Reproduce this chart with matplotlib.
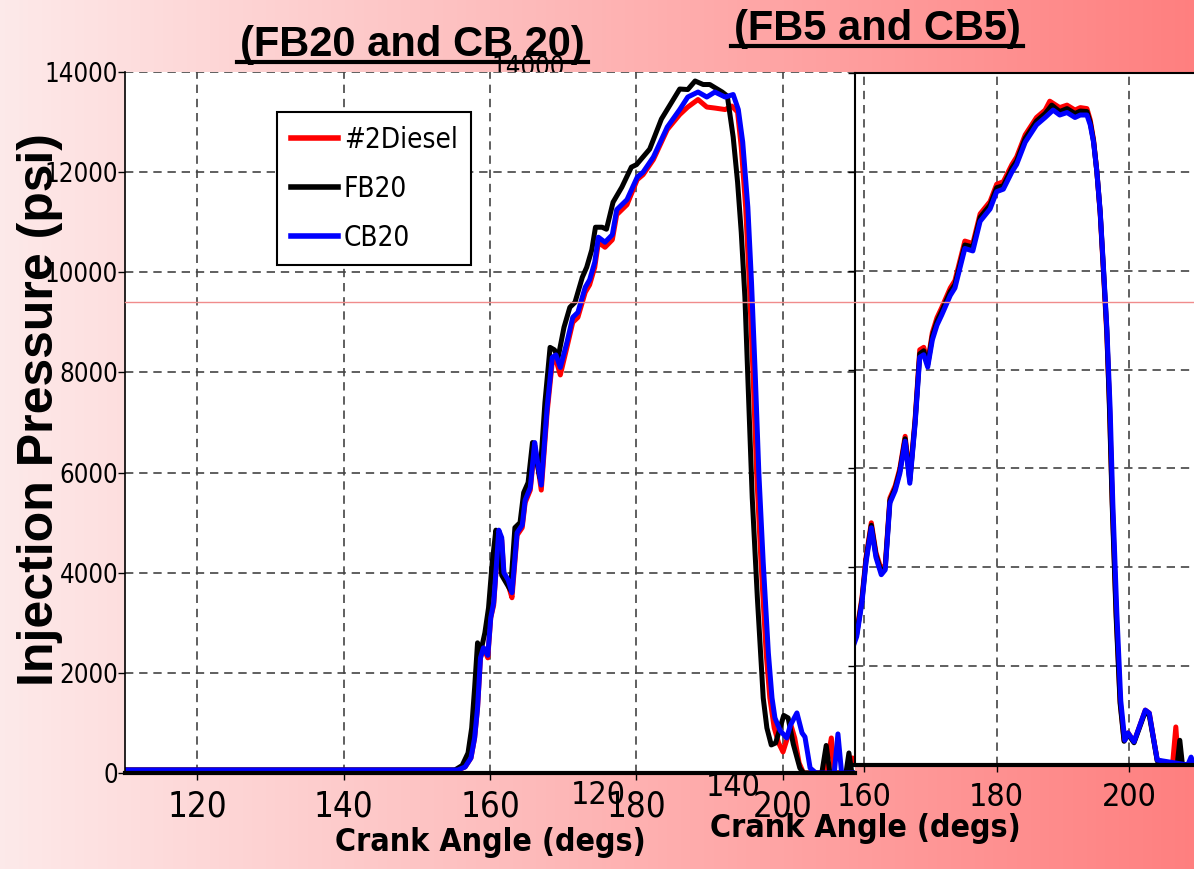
import numpy as np
import matplotlib
matplotlib.use("Agg")
import matplotlib.pyplot as plt
import matplotlib.font_manager as fm
from matplotlib.lines import Line2D

W, H = 1194, 869
BOLD = ["Liberation Sans", "DejaVu Sans"]


def find_narrow(bold=False):
    """Look for a condensed sans face; the slide uses squeezed Arial."""
    for f in fm.fontManager.ttflist:
        name = f.name.lower()
        narrow = "narrow" in name or "condensed" in name or f.stretch in ("condensed", "semi-condensed")
        if not narrow or "mono" in name or "serif" in name or f.style != "normal":
            continue
        w = f.weight if isinstance(f.weight, int) else (700 if f.weight == "bold" else 400)
        if (w >= 600) == bold:
            return f.fname
    return None


NARROW_REG = find_narrow(False)
NARROW_BOLD = find_narrow(True)


def nfont(size, bold=False):
    path = NARROW_BOLD if bold else NARROW_REG
    if path:
        return fm.FontProperties(fname=path, size=size)
    # no condensed face installed: shrink the plain one instead
    return fm.FontProperties(family=BOLD, size=size * 0.82, weight="bold" if bold else "normal")


# ---- left panel (FB20 / CB20) ----
diesel20_deg = [110, 130, 150, 155.6, 156.6, 157.4, 157.9, 158.3, 158.7, 159.1, 159.7, 160.1, 160.5,
                160.9, 161.2, 161.6, 161.9, 162.5, 163.0, 163.7, 164.4, 164.8, 165.5, 166.1, 166.5,
                167.0, 167.8, 168.5, 169.0, 169.6, 170.5, 171.3, 172.0, 173.0, 173.6, 174.3, 174.8,
                175.7, 176.7, 177.3, 178.7, 180.1, 180.9, 182.3, 184.2, 185.9, 187.0, 188.4, 189.6,
                190.7, 192.1, 193.0, 193.8, 194.3, 194.9, 195.4, 195.9, 196.4, 197.0, 197.7, 198.2,
                198.8, 199.4, 200.0, 200.6, 201.1, 201.6, 202.2, 202.8, 205.8, 206.6, 207.0, 209.0,
                209.5, 210]
diesel20_psi = [60, 60, 60, 60, 120, 300, 700, 1300, 2300, 2500, 2300, 3100, 3350,
                4200, 4800, 4650, 3950, 3750, 3500, 4750, 4900, 5400, 5650, 6550, 6150,
                5650, 7200, 8200, 8250, 7950, 8500, 9000, 9100, 9600, 9750, 10100, 10600,
                10500, 10650, 11150, 11350, 11850, 11950, 12250, 12850, 13150, 13300, 13450, 13300,
                13280, 13250, 13320, 13200, 12500, 11300, 9800, 8000, 6000, 4200, 2400, 1500,
                900, 600, 420, 700, 950, 700, 200, 0, 0, 700, 0, 0,
                300, 250]

fb20_deg = [110, 130, 150, 155.2, 156.2, 157.0, 157.5, 157.9, 158.3, 158.7, 159.3, 159.8, 160.3,
            160.8, 161.2, 161.6, 162.2, 162.8, 163.4, 164.1, 164.6, 165.2, 165.8, 166.3, 166.8,
            167.5, 168.2, 168.8, 169.3, 170.1, 170.9, 171.6, 172.6, 173.2, 173.9, 174.4, 175.3,
            175.9, 176.8, 178.0, 179.3, 180.0, 181.8, 183.4, 185.9, 187.0, 188.0, 189.1, 190.0,
            191.7, 192.4, 193.2, 193.8, 194.3, 194.8, 195.3, 195.8, 196.5, 197.3, 197.8, 198.4,
            199.0, 199.6, 200.1, 200.7, 201.4, 202.3, 202.8, 205.3, 205.9, 206.4, 208.6, 209.0,
            209.4, 210]
fb20_psi = [60, 60, 60, 60, 150, 400, 900, 1700, 2600, 2400, 2800, 3300, 4200,
            4850, 4600, 3950, 3800, 3650, 4900, 5000, 5600, 5800, 6600, 6300, 5900,
            7400, 8500, 8450, 8300, 8900, 9300, 9400, 9900, 10100, 10450, 10900, 10900,
            10860, 11400, 11700, 12100, 12150, 12460, 13060, 13660, 13650, 13820, 13750, 13750,
            13600, 13520, 12700, 11800, 10800, 9500, 7500, 5500, 3500, 1500, 900, 560,
            600, 900, 1150, 1100, 580, 100, 0, 0, 550, 0, 0, 400,
            0, 0]

cb20_deg = [110, 130, 150, 155.6, 156.6, 157.4, 157.9, 158.3, 158.7, 159.1, 159.7, 160.1, 160.5,
            160.9, 161.2, 161.6, 161.9, 162.5, 163.0, 163.7, 164.4, 164.8, 165.5, 166.1, 166.5,
            167.0, 167.8, 168.5, 169.0, 169.6, 170.5, 171.3, 172.0, 173.0, 173.6, 174.3, 174.8,
            175.7, 176.7, 177.3, 178.7, 180.1, 180.9, 182.3, 184.2, 185.9, 187.0, 188.4, 189.6,
            190.7, 192.1, 193.2, 193.9, 194.5, 195.2, 195.7, 196.2, 196.7, 197.3, 198.0, 198.5,
            198.9, 199.6, 200.5, 201.0, 201.9, 202.6, 203.0, 203.7, 204.5, 207.0, 207.5, 208.0,
            210]
cb20_psi = [60, 60, 60, 60, 120, 300, 700, 1300, 2300, 2500, 2350, 3100, 3400,
            4200, 4850, 4700, 4000, 3850, 3600, 4800, 4950, 5450, 5700, 6600, 6200,
            5750, 7300, 8300, 8350, 8100, 8600, 9100, 9200, 9700, 9850, 10200, 10700,
            10600, 10750, 11250, 11450, 11900, 12000, 12300, 12900, 13250, 13500, 13600, 13500,
            13600, 13500, 13550, 13250, 12600, 11300, 9800, 8000, 6000, 4200, 2400, 1500,
            1100, 850, 700, 950, 1200, 800, 720, 100, 0, 0, 780, 0,
            0]

# ---- right panel (FB5 / CB5) ----
diesel5_deg = [158.5, 158.9, 159.7, 160.3, 161.1, 161.8, 162.6, 163.2, 163.9, 164.7, 165.4, 166.2,
               166.9, 167.7, 168.4, 169.0, 169.6, 170.3, 171.0, 171.7, 173.0, 173.7, 175.2, 176.4,
               177.5, 179.0, 180.0, 181.0, 182.3, 183.0, 184.3, 186.0, 187.3, 188.0, 189.5, 190.6,
               191.8, 192.6, 193.6, 194.1, 194.6, 195.1, 195.6, 196.1, 196.6, 197.0, 197.4, 198.0,
               198.6, 199.2, 199.8, 200.7, 202.4, 203.0, 203.6, 204.2, 206.5, 207.0, 207.4, 210]
diesel5_psi = [2550, 2700, 3400, 4200, 4900, 4300, 3950, 4050, 5400, 5650, 6000, 6650,
               5800, 7000, 8400, 8450, 8150, 8750, 9050, 9250, 9650, 9800, 10600, 10550,
               11150, 11400, 11750, 11800, 12150, 12300, 12750, 13100, 13250, 13430, 13300, 13350,
               13250, 13300, 13280, 13050, 12650, 12000, 11150, 9950, 8700, 7300, 5400, 3100,
               1300, 500, 650, 470, 1110, 1050, 570, 100, 0, 770, 0, 0]

fb5_deg = [158.5, 158.9, 159.7, 160.3, 161.1, 161.8, 162.6, 163.2, 163.9, 164.7, 165.4, 166.2,
           166.9, 167.7, 168.4, 169.0, 169.6, 170.3, 171.0, 171.7, 173.0, 173.7, 175.2, 176.4,
           177.5, 179.0, 180.0, 181.0, 182.3, 183.0, 184.3, 186.0, 187.3, 188.3, 189.5, 190.6,
           191.8, 192.6, 193.6, 194.1, 194.6, 195.1, 195.6, 196.1, 196.6, 197.0, 197.4, 198.0,
           198.6, 199.2, 199.8, 200.7, 202.4, 203.0, 203.6, 204.2, 207.2, 207.6, 208.0, 210]
fb5_psi = [2500, 2650, 3350, 4150, 4850, 4250, 3900, 4000, 5350, 5600, 5950, 6600,
           5750, 6950, 8320, 8380, 8100, 8680, 8980, 9180, 9580, 9720, 10520, 10480,
           11080, 11330, 11680, 11720, 12080, 12220, 12680, 13030, 13180, 13350, 13220, 13280,
           13180, 13230, 13220, 13000, 12620, 12000, 11180, 10000, 8780, 7200, 5300, 3000,
           1250, 480, 620, 450, 1080, 1000, 550, 80, 0, 500, 0, 0]

cb5_deg = [158.5, 158.9, 159.7, 160.3, 161.1, 161.8, 162.6, 163.2, 163.9, 164.7, 165.4, 166.2,
           166.9, 167.7, 168.4, 169.0, 169.6, 170.3, 171.0, 171.7, 173.0, 173.7, 175.2, 176.4,
           177.5, 179.0, 180.0, 181.0, 182.3, 183.0, 184.3, 186.0, 187.3, 188.5, 189.5, 190.6,
           191.8, 192.6, 193.6, 194.1, 194.6, 195.1, 195.6, 196.1, 196.6, 197.1, 197.5, 198.1,
           198.7, 199.3, 199.8, 200.7, 202.4, 203.0, 203.6, 204.2, 208.8, 209.3, 209.7]
cb5_psi = [2450, 2600, 3300, 4100, 4800, 4200, 3850, 3950, 5300, 5550, 5900, 6550,
           5700, 6900, 8250, 8300, 8050, 8600, 8900, 9100, 9500, 9650, 10450, 10400,
           11000, 11250, 11600, 11650, 12000, 12150, 12600, 12950, 13100, 13250, 13150, 13200,
           13100, 13150, 13150, 12950, 12600, 12000, 11200, 10050, 8850, 7200, 5300, 3100,
           1300, 500, 650, 470, 1110, 1050, 570, 100, 0, 160, 0]

left_labels = ["#2Diesel", "FB20", "CB20"]
x_ticks_left = [120, 140, 160, 180, 200]
x_ticks_right = [160, 180, 200]
y_ticks = [0, 2000, 4000, 6000, 8000, 10000, 12000, 14000]

COLORS = ["#ff0000", "#000000", "#0000ff"]


def fx(px):
    return px / W


def fy(py):
    return 1 - py / H


fig = plt.figure(figsize=(W / 100, H / 100), dpi=100)

# gradient background
bg = fig.add_axes([0, 0, 1, 1], zorder=-10)
grad = np.linspace(0, 1, 256)
c0 = np.array([0.992, 0.915, 0.915])
c1 = np.array([1.0, 0.50, 0.50])
img = c0[None, None, :] + (c1 - c0)[None, None, :] * grad[None, :, None]
bg.imshow(img, aspect="auto", extent=[0, 1, 0, 1])
bg.set_axis_off()

grid_kw = dict(color="#444444", linestyle=(0, (5, 3.5)), linewidth=1.2)


def style_axes(ax, xsize, ysize):
    ax.grid(True, **grid_kw)
    ax.set_axisbelow(True)
    for lab in ax.get_xticklabels():
        lab.set_fontproperties(nfont(xsize))
    for lab in ax.get_yticklabels():
        lab.set_fontproperties(nfont(ysize))
    ax.tick_params(axis="both", direction="out", length=5, width=1, color="black")


# left panel
ax1 = fig.add_axes([fx(125), fy(773), fx(855) - fx(125), fy(72) - fy(773)], zorder=1)
ax1.plot(diesel20_deg, diesel20_psi, color=COLORS[0], lw=3.6, label=left_labels[0])
ax1.plot(fb20_deg, fb20_psi, color=COLORS[1], lw=3.6, label=left_labels[1])
ax1.plot(cb20_deg, cb20_psi, color=COLORS[2], lw=3.6, label=left_labels[2])
ax1.set_xlim(110.17, 209.83)
ax1.set_ylim(0, 14000)
ax1.set_xticks(x_ticks_left)
ax1.set_yticks(y_ticks)
ax1.tick_params(axis="x", pad=7, length=0)
ax1.tick_params(axis="y", pad=0)
ax1.spines["top"].set_visible(False)
ax1.spines["right"].set_visible(False)
ax1.spines["bottom"].set_linewidth(3)
ax1.spines["left"].set_linewidth(1.2)
style_axes(ax1, 25, 18.5)

leg = ax1.legend(loc="upper left", bbox_to_anchor=(fx(277), fy(112)),
                 bbox_transform=fig.transFigure, frameon=True, fancybox=False,
                 edgecolor="black", framealpha=1, prop=nfont(20),
                 handlelength=1.7, handletextpad=0.2, labelspacing=0.75,
                 borderpad=0.5, borderaxespad=0)
leg.get_frame().set_linewidth(1.5)
for h in leg.get_lines():
    h.set_linewidth(4)

# right panel
ax2 = fig.add_axes([fx(855), fy(765), 1 - fx(855), fy(73) - fy(765)], zorder=2)
ax2.plot(diesel5_deg, diesel5_psi, color=COLORS[0], lw=3.6)
ax2.plot(fb5_deg, fb5_psi, color=COLORS[1], lw=3.6)
ax2.plot(cb5_deg, cb5_psi, color=COLORS[2], lw=3.6)
ax2.set_xlim(158.64, 209.74)
ax2.set_ylim(0, 14000)
ax2.set_xticks(x_ticks_right)
ax2.set_yticks(y_ticks)
ax2.set_yticklabels([])
ax2.tick_params(axis="x", pad=7, length=0)
ax2.spines["right"].set_visible(False)
ax2.spines["bottom"].set_linewidth(3)
ax2.spines["top"].set_linewidth(1.5)
ax2.spines["left"].set_linewidth(1.5)
style_axes(ax2, 23, 18.5)

# ghost pieces left over from the slide composition
fig.text(fx(528), fy(68), "14000", fontproperties=nfont(18.5), ha="center",
         va="center", zorder=-1)
fig.text(fx(598), fy(795), "120", fontproperties=nfont(23), ha="center",
         va="center", zorder=-1)
fig.text(fx(733), fy(787), "140", fontproperties=nfont(23), ha="center",
         va="center", zorder=-1)
fig.add_artist(Line2D([fx(125), 1], [fy(302), fy(302)], color="#f08c8c", lw=1, zorder=5))

# titles with underline
fig.text(fx(412), fy(56), "(FB20 and CB 20)", family=BOLD, weight="bold",
         fontsize=30, ha="center", va="baseline")
fig.add_artist(Line2D([fx(237), fx(588)], [fy(62), fy(62)], color="black", lw=3))
fig.text(fx(877), fy(40), "(FB5 and CB5)", family=BOLD, weight="bold",
         fontsize=30, ha="center", va="baseline")
fig.add_artist(Line2D([fx(731), fx(1023)], [fy(46), fy(46)], color="black", lw=3))

# axis labels
fig.text(fx(40), fy(410), "Injection Pressure (psi)", family=BOLD, weight="bold",
         fontsize=36, rotation=90, ha="center", va="center")
fig.text(fx(490), fy(843), "Crank Angle (degs)", fontproperties=nfont(23, bold=True),
         ha="center", va="center")
fig.text(fx(865), fy(828), "Crank Angle (degs)", fontproperties=nfont(23, bold=True),
         ha="center", va="center")

fig.savefig("out.png", dpi=100)
